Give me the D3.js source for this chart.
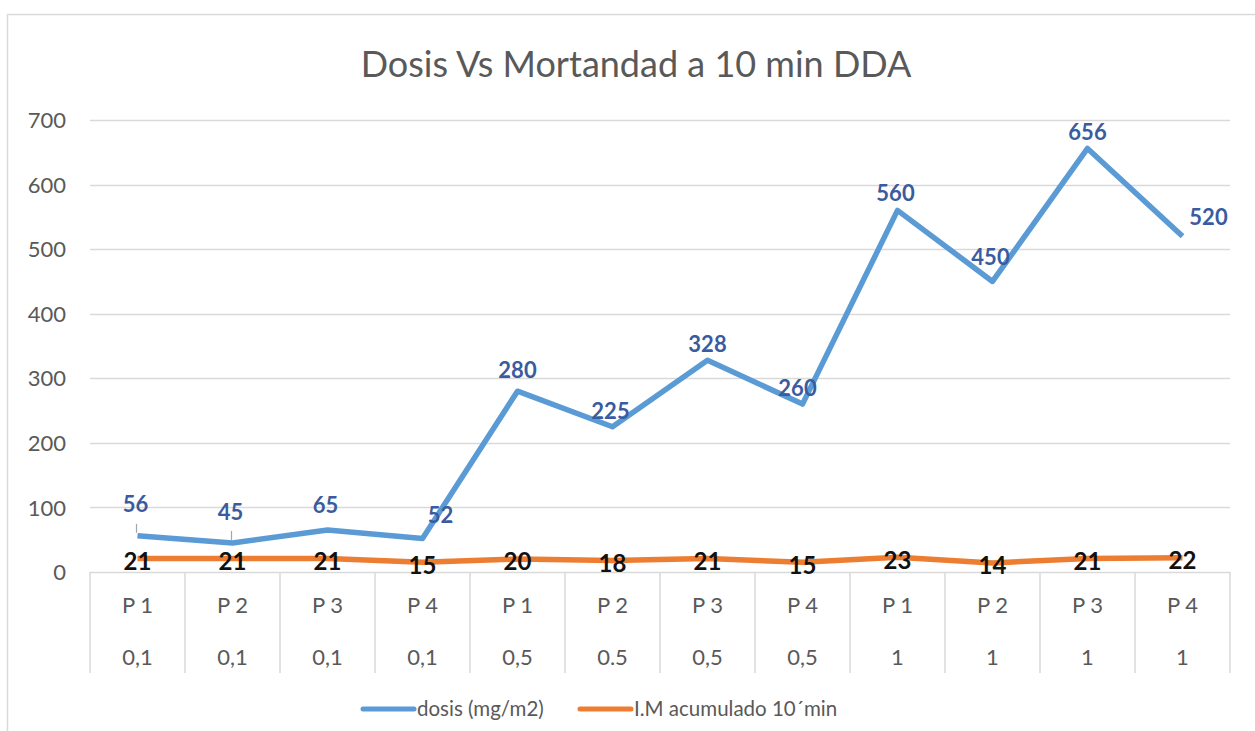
<!DOCTYPE html>
<html><head><meta charset="utf-8">
<script src="https://cdn.jsdelivr.net/npm/d3@7"></script>
<style>body{margin:0;background:#fff;}svg{display:block;}</style>
</head><body>
<svg id="c" width="1255" height="731"></svg>
<script>
const title = "Dosis Vs Mortandad a 10 min DDA";
const positions = ["P 1","P 2","P 3","P 4","P 1","P 2","P 3","P 4","P 1","P 2","P 3","P 4"];
const doses = ["0,1","0,1","0,1","0,1","0,5","0.5","0,5","0,5","1","1","1","1"];
const dosis = [56,45,65,52,280,225,328,260,560,450,656,520];
const mortality = [21,21,21,15,20,18,21,15,23,14,21,22];
const yTicks = [0,100,200,300,400,500,600,700];
const seriesNames = ["dosis (mg/m2)","I.M acumulado 10´min"];

// label placement nudges (styling, px)
const blueNudge = [[-2,-32,1],[-2,-31,1],[-2,-25,0],[18,-23,0],[0,-21,0],[-2,-15,0],[0,-16,0],[-5,-16,0],[-2,-17,0],[-2,-24,0],[0,-16,0],[26,-19,0]];

const svg = d3.select("#c");
const font = "Lato, 'Open Sans', sans-serif";
const grey = "#595959";
const pLeft = 90, pRight = 1230, pTop = 120, pBottom = 572;

svg.append("rect").attr("x",7.5).attr("y",14.5).attr("width",1300).attr("height",800)
  .attr("fill","#fff").attr("stroke","#d9d9d9").attr("stroke-width",1.5);

svg.append("text").attr("x",636).attr("y",77).attr("text-anchor","middle")
  .attr("font-family",font).attr("font-size",36).attr("fill",grey).text(title);

const idx = d3.range(dosis.length);
const x = d3.scaleBand().domain(idx).range([pLeft,pRight]);
const y = d3.scaleLinear().domain([0,700]).range([pBottom,pTop]);
const cx = i => x(i) + x.bandwidth()/2;

// gridlines
svg.append("g").selectAll("line").data(yTicks).join("line")
  .attr("x1",pLeft).attr("x2",pRight).attr("y1",d=>Math.round(y(d))+0.5).attr("y2",d=>Math.round(y(d))+0.5)
  .attr("stroke","#d9d9d9").attr("stroke-width",1.5);

// y axis labels
const yAxis = d3.axisLeft(y).tickValues(yTicks).tickSize(0).tickPadding(0);
const ya = svg.append("g").attr("transform",`translate(${pLeft-24},0)`).call(yAxis);
ya.select(".domain").remove();
ya.selectAll("text").attr("font-family",font).attr("font-size",22).attr("fill",grey).attr("dy","0.35em");

// x axis separators
const seps = idx.concat([dosis.length]);
svg.append("g").selectAll("line").data(seps).join("line")
  .attr("x1",i=> (i<dosis.length? x(i): pRight)).attr("x2",i=> (i<dosis.length? x(i): pRight))
  .attr("y1",pBottom).attr("y2",673).attr("stroke","#d9d9d9").attr("stroke-width",1.5);

svg.append("g").selectAll("text").data(positions).join("text")
  .attr("x",(d,i)=>cx(i)).attr("y",605).attr("dy","0.35em").attr("text-anchor","middle")
  .attr("font-family",font).attr("font-size",22).attr("fill",grey).text(d=>d);
svg.append("g").selectAll("text").data(doses).join("text")
  .attr("x",(d,i)=>cx(i)).attr("y",657).attr("dy","0.35em").attr("text-anchor","middle")
  .attr("font-family",font).attr("font-size",22).attr("fill",grey).text(d=>d);

const line = d3.line().x((d,i)=>cx(i)).y(d=>y(d));
svg.append("path").datum(mortality).attr("d",line).attr("fill","none")
  .attr("stroke","#ED7D31").attr("stroke-width",5.5).attr("stroke-linejoin","round");
svg.append("path").datum(dosis).attr("d",line).attr("fill","none")
  .attr("stroke","#5B9BD5").attr("stroke-width",5.5).attr("stroke-linejoin","round");

// leader lines
svg.append("g").selectAll("line").data(idx.filter(i=>blueNudge[i][2])).join("line")
  .attr("x1",i=>cx(i)-1).attr("x2",i=>cx(i)-1)
  .attr("y1",i=>y(dosis[i])-12).attr("y2",i=>y(dosis[i])-3)
  .attr("stroke","#a6a6a6").attr("stroke-width",1.2);

// blue labels
svg.append("g").selectAll("text").data(dosis).join("text")
  .attr("x",(d,i)=>cx(i)+blueNudge[i][0]).attr("y",(d,i)=>y(d)+blueNudge[i][1])
  .attr("dy","0.35em").attr("text-anchor","middle")
  .attr("font-family",font).attr("font-size",22).attr("font-weight","bold").attr("fill","#3A5BA0").text(d=>d);

// orange labels
svg.append("g").selectAll("text").data(mortality).join("text")
  .attr("x",(d,i)=>cx(i)).attr("y",d=>y(d)+3)
  .attr("dy","0.35em").attr("text-anchor","middle")
  .attr("font-family",font).attr("font-size",24).attr("font-weight","bold").attr("fill","#111").text(d=>d);

// legend
const leg = svg.append("g");
const legItems = [{name:seriesNames[0],color:"#5B9BD5",x:363},{name:seriesNames[1],color:"#ED7D31",x:580}];
legItems.forEach(it=>{
  leg.append("line").attr("x1",it.x).attr("x2",it.x+51).attr("y1",709).attr("y2",709)
    .attr("stroke",it.color).attr("stroke-width",5).attr("stroke-linecap","round");
  leg.append("text").attr("x",it.x+54).attr("y",709).attr("dy","0.35em")
    .attr("font-family",font).attr("font-size",20.5).attr("fill",grey).text(it.name);
});
</script>
</body></html>
